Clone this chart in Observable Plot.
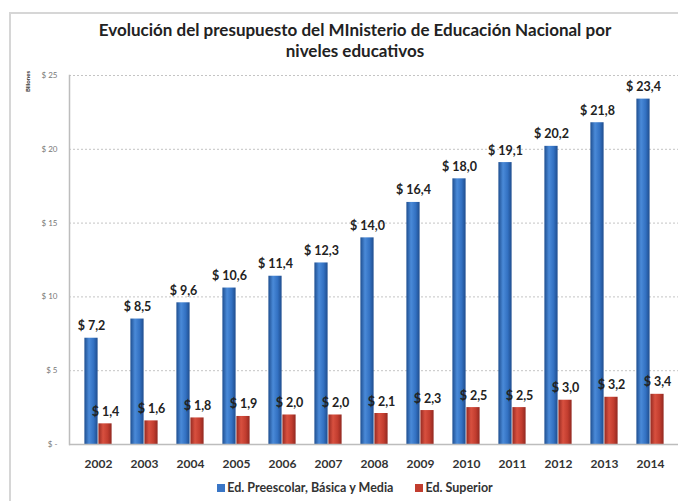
<!DOCTYPE html>
<html><head><meta charset="utf-8">
<script src="https://cdn.jsdelivr.net/npm/d3@7"></script>
<script src="https://cdn.jsdelivr.net/npm/@observablehq/plot@0.6"></script>
<style>
html,body{margin:0;padding:0;background:#fff;}
#wrap{position:relative;width:678px;height:501px;overflow:hidden;font-family:Lato,"Open Sans",sans-serif;background:#fff;}
#frame{position:absolute;left:9px;top:12px;right:-10px;bottom:-10px;border-left:2px solid #d6d6d6;border-top:2px solid #d6d6d6;}
#title{position:absolute;left:32px;right:0;top:19px;text-align:center;font-weight:bold;font-size:17px;line-height:21px;color:#222;}
#unit{position:absolute;left:7px;top:78px;width:40px;text-align:center;transform:rotate(-90deg);font-size:6px;font-weight:bold;color:#333;}
#chart{position:absolute;left:0;top:62px;}
#legend{position:absolute;left:32px;right:0;top:480px;display:flex;justify-content:center;gap:22px;font-weight:bold;font-size:12.5px;color:#333;line-height:15px;}
#legend span.sw{display:inline-block;width:8px;height:8px;margin-right:2px;vertical-align:0px;}
g[aria-label="x-axis tick label"] text{font-weight:bold;}
</style>
</head><body>
<div id="wrap">
  <div id="frame"></div>
  <div id="title">Evolución del presupuesto del MInisterio de Educación Nacional por<br>niveles educativos</div>
  <div id="unit">Billones</div>
  <div id="chart"></div>
  <div id="legend"></div>
</div>
<script>
const years = ["2002","2003","2004","2005","2006","2007","2008","2009","2010","2011","2012","2013","2014"];
const preescolar = [7.2, 8.5, 9.6, 10.6, 11.4, 12.3, 14.0, 16.4, 18.0, 19.1, 20.2, 21.8, 23.4];
const superior = [1.4, 1.6, 1.8, 1.9, 2.0, 2.0, 2.1, 2.3, 2.5, 2.5, 3.0, 3.2, 3.4];
const seriesNames = ["Ed. Preescolar, Básica y Media", "Ed. Superior"];
const yTicks = [0, 5, 10, 15, 20, 25];

const blueRows = years.map((y, i) => ({year: y, series: seriesNames[0], value: preescolar[i]}));
const redRows = years.map((y, i) => ({year: y, series: seriesNames[1], value: superior[i]}));
const fmt = d => "$ " + d.value.toFixed(1).replace(".", ",");

const chart = Plot.plot({
  width: 678,
  height: 412,
  marginLeft: 69,
  marginRight: 0,
  marginTop: 13,
  marginBottom: 30,
  style: {fontFamily: "Lato, 'Open Sans', sans-serif", background: "transparent"},
  x: {type: "band", domain: years, padding: 0, label: null},
  y: {domain: [0, 25], ticks: yTicks, label: null},
  marks: [
    Plot.ruleY(yTicks.filter(d => d > 0), {stroke: "#c4c4c4", strokeDasharray: "2,2"}),
    Plot.barY(blueRows, {x: "year", y: "value", fill: "url(#gBlue)", insetLeft: 9.4, insetRight: 23.4}),
    Plot.barY(redRows, {x: "year", y: "value", fill: "url(#gRed)", insetLeft: 23.4, insetRight: 9.4}),
    Plot.ruleY([0], {stroke: "#bdbdbd", strokeWidth: 1.5}),
    Plot.frame({anchor: "left", stroke: "#bdbdbd", strokeWidth: 1.5}),
    Plot.text(blueRows, {x: "year", y: "value", text: fmt, dx: -7, dy: -12, fontWeight: "bold", fontSize: 12.5, fill: "#222"}),
    Plot.text(redRows, {x: "year", y: "value", text: fmt, dx: 7, dy: -12, fontWeight: "bold", fontSize: 12.5, fill: "#222"}),
    Plot.axisY({ticks: yTicks, tickSize: 0, tickPadding: 12, fontSize: 8, fill: "#777",
      tickFormat: d => d === 0 ? "$ -" : "$ " + d}),
    Plot.axisX({tickSize: 0, tickPadding: 15, fontSize: 12, fill: "#333", label: null})
  ]
});

const defs = `<defs>
<linearGradient id="gBlue" x1="0" x2="1" y1="0" y2="0">
<stop offset="0" stop-color="#1e4e90"/><stop offset="0.35" stop-color="#4a8ad8"/><stop offset="0.7" stop-color="#3371c2"/><stop offset="1" stop-color="#1f4d8e"/>
</linearGradient>
<linearGradient id="gRed" x1="0" x2="1" y1="0" y2="0">
<stop offset="0" stop-color="#962a22"/><stop offset="0.35" stop-color="#d8503f"/><stop offset="0.7" stop-color="#c23d2f"/><stop offset="1" stop-color="#922820"/>
</linearGradient></defs>`;
chart.insertAdjacentHTML("afterbegin", defs);
document.getElementById("chart").appendChild(chart);

const colors = ["#3a76c6", "#c23d2f"];
document.getElementById("legend").innerHTML = seriesNames.map((s, i) =>
  `<div><span class="sw" style="background:${colors[i]}"></span>${s}</div>`).join("");
</script>
</body></html>
